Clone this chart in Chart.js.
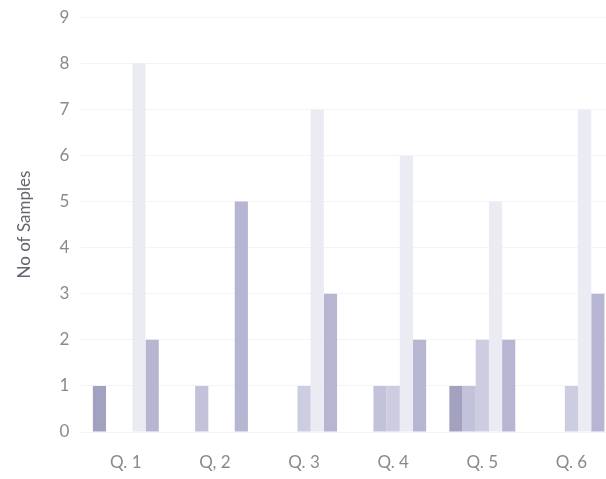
<!DOCTYPE html>
<html>
<head>
<meta charset="utf-8">
<script src="https://cdn.jsdelivr.net/npm/chart.js@4"></script>
<style>
  html, body { margin: 0; padding: 0; background: #fff; overflow: hidden; }
  #wrap { width: 616px; height: 484px; margin-top: -5px; }
</style>
</head>
<body>
<div id="wrap"><canvas id="chart"></canvas></div>
<script>
// categories and series
const questions = ['Q. 1', 'Q, 2', 'Q. 3', 'Q. 4', 'Q. 5', 'Q. 6']
const series1 = [1, 0, 0, 0, 1, 0]
const series2 = [0, 1, 0, 1, 1, 0]
const series3 = [0, 0, 1, 1, 2, 1]
const series4 = [8, 0, 7, 6, 5, 7]
const series5 = [2, 5, 3, 2, 2, 3]
const yTicks = [0, 1, 2, 3, 4, 5, 6, 7, 8, 9]

const colors = ['#a2a2c0', '#c2c2da', '#cdcde2', '#ebebf3', '#b6b6d2']
const allSeries = [series1, series2, series3, series4, series5]

const ctx = document.getElementById('chart').getContext('2d')
new Chart(ctx, {
    type: 'bar',
    data: {
        labels: questions,
        datasets: allSeries.map((s, i) => ({
            label: 'Series ' + (i + 1),
            data: s,
            backgroundColor: colors[i],
            borderWidth: 0,
            barPercentage: 1.0,
            categoryPercentage: 0.74
        }))
    },
    options: {
        responsive: true,
        maintainAspectRatio: false,
        animation: false,
        layout: { padding: { top: 1, left: 10, right: 0, bottom: 0 } },
        plugins: { legend: { display: false }, tooltip: { enabled: false } },
        scales: {
            x: {
                grid: { display: false },
                border: { display: false },
                afterFit: (axis) => { axis.height = 47 },
                ticks: { color: '#8a8a8a', font: { family: 'Lato', size: 17 }, padding: 12, maxRotation: 0 }
            },
            y: {
                min: 0,
                max: 9,
                afterBuildTicks: (axis) => { axis.ticks = yTicks.map((v) => ({ value: v })) },
                grid: { color: '#f4f4f6', drawTicks: false },
                border: { display: false },
                ticks: { color: '#8a8a8a', font: { family: 'Lato', size: 17 }, padding: 12 },
                title: { display: true, text: 'No of Samples', color: '#666672', font: { family: 'Lato', size: 17 }, padding: { top: 4, bottom: 13 } }
            }
        }
    }
})
</script>
</body>
</html>
